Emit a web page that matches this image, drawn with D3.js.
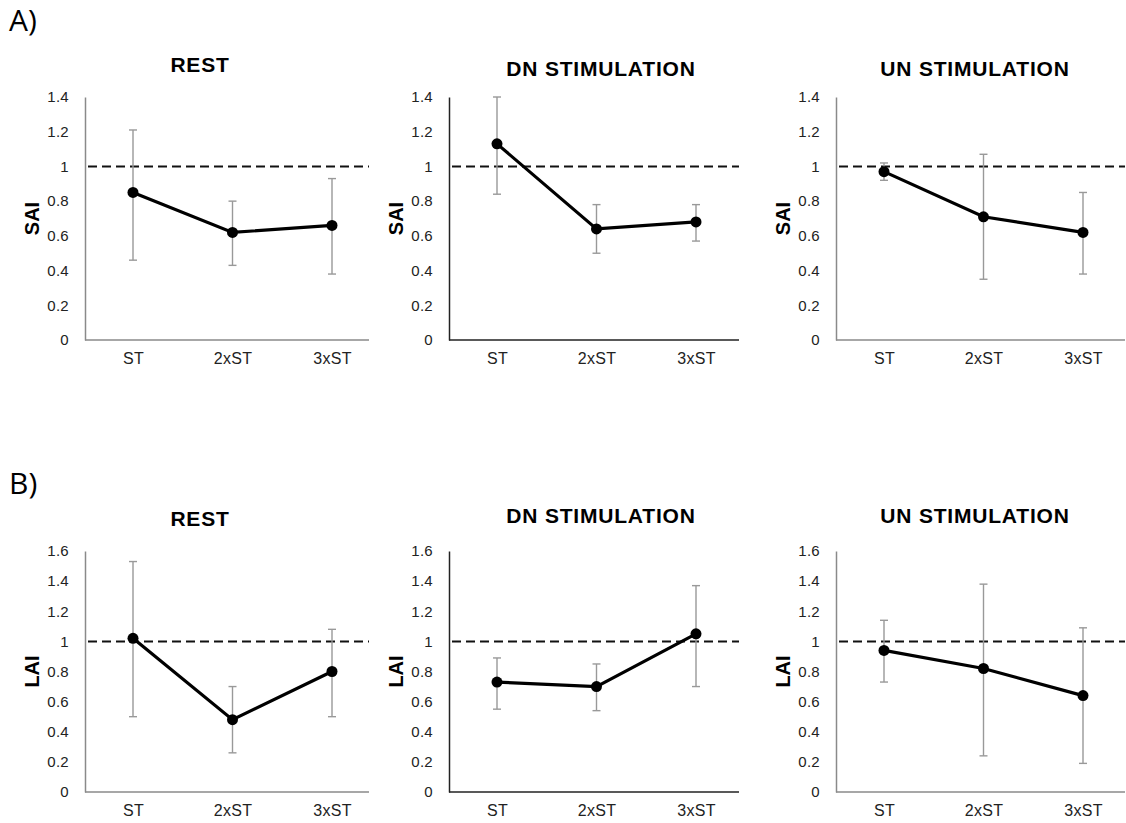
<!DOCTYPE html>
<html lang="en">
<head>
<meta charset="utf-8">
<script src="https://d3js.org/d3.v7.min.js"></script>
<style>
  body { margin: 0; background: #fff; }
  text { font-family: "Liberation Sans", Arial, sans-serif; }
  .panel-title { font-weight: bold; font-size: 21px; letter-spacing: 0.8px; }
  .ylab { font-weight: bold; font-size: 20px; }
  .tick text { font-size: 15px; fill: #222; letter-spacing: 0.3px; }
  .xcat .tick text { font-size: 16px; }
  .section { font-family: "Open Sans", Lato, sans-serif; font-size: 30px; }
</style>
</head>
<body>
<div id="chart"></div>
<script>
// categories on the x axis
const categories = ["ST", "2xST", "3xST"];

// A) SAI, rows: rest / DN stimulation / UN stimulation
const saiRestMean = [0.85, 0.62, 0.66];
const saiRestHi   = [1.21, 0.80, 0.93];
const saiRestLo   = [0.46, 0.43, 0.38];

const saiDnMean = [1.13, 0.64, 0.68];
const saiDnHi   = [1.40, 0.78, 0.78];
const saiDnLo   = [0.84, 0.50, 0.57];

const saiUnMean = [0.97, 0.71, 0.62];
const saiUnHi   = [1.02, 1.07, 0.85];
const saiUnLo   = [0.92, 0.35, 0.38];

// B) LAI
const laiRestMean = [1.02, 0.48, 0.80];
const laiRestHi   = [1.53, 0.70, 1.08];
const laiRestLo   = [0.50, 0.26, 0.50];

const laiDnMean = [0.73, 0.70, 1.05];
const laiDnHi   = [0.89, 0.85, 1.37];
const laiDnLo   = [0.55, 0.54, 0.70];

const laiUnMean = [0.94, 0.82, 0.64];
const laiUnHi   = [1.14, 1.38, 1.09];
const laiUnLo   = [0.73, 0.24, 0.19];

const titles = ["REST", "DN STIMULATION", "UN STIMULATION"];
const saiTicks = [0, 0.2, 0.4, 0.6, 0.8, 1, 1.2, 1.4];
const laiTicks = [0, 0.2, 0.4, 0.6, 0.8, 1, 1.2, 1.4, 1.6];
const refValue = 1;

const W = 1126, H = 823;
const svg = d3.select("#chart").append("svg")
    .attr("width", W).attr("height", H);

svg.append("rect").attr("width", W).attr("height", H).attr("fill", "#fff");

// layout of the six small plots
const colX = [85, 449, 836];
const colW = [284, 290, 289];
const titleX = [200, 601, 975];
const rows = [
  { label: "A)", labelY: 31, top: 97, bottom: 340, yMax: 1.4, ticks: saiTicks, ylab: "SAI",
    titleY: [72, 76, 76],
    series: [[saiRestMean, saiRestHi, saiRestLo], [saiDnMean, saiDnHi, saiDnLo], [saiUnMean, saiUnHi, saiUnLo]] },
  { label: "B)", labelY: 494, top: 551, bottom: 792, yMax: 1.6, ticks: laiTicks, ylab: "LAI",
    titleY: [526, 523, 523],
    series: [[laiRestMean, laiRestHi, laiRestLo], [laiDnMean, laiDnHi, laiDnLo], [laiUnMean, laiUnHi, laiUnLo]] }
];

rows.forEach(row => {
  svg.append("text")
      .attr("class", "section")
      .attr("x", 9)
      .attr("y", row.labelY)
      .text(row.label);

  row.series.forEach((s, i) => {
    const [mean, hi, lo] = s;
    const x0 = colX[i];
    const axisColor = i === 1 ? "#222" : "#8a8a8a";

    const y = d3.scaleLinear().domain([0, row.yMax]).range([row.bottom, row.top]);
    const x = d3.scalePoint().domain(categories).range([x0 + 48, x0 + 247]);

    const g = svg.append("g");

    // title
    g.append("text")
        .attr("class", "panel-title")
        .attr("x", titleX[i])
        .attr("y", row.titleY[i])
        .attr("text-anchor", "middle")
        .text(titles[i]);

    // y axis
    const yAxis = g.append("g")
        .attr("transform", `translate(${x0},0)`)
        .call(d3.axisLeft(y).tickValues(row.ticks)
            .tickFormat(d => String(+d.toFixed(1)))
            .tickSize(0).tickPadding(16));
    yAxis.select(".domain").attr("stroke", axisColor).attr("stroke-width", 1.5);

    // x axis line
    g.append("line")
        .attr("x1", x0).attr("x2", x0 + colW[i])
        .attr("y1", row.bottom).attr("y2", row.bottom)
        .attr("stroke", axisColor).attr("stroke-width", 1.5);

    const xAxis = g.append("g")
        .attr("class", "xcat")
        .attr("transform", `translate(0,${row.bottom})`)
        .call(d3.axisBottom(x).tickSize(0).tickPadding(13));
    xAxis.select(".domain").remove();

    // y label
    g.append("text")
        .attr("class", "ylab")
        .attr("transform", `translate(${x0 - 46},${(row.top + row.bottom) / 2}) rotate(-90)`)
        .attr("text-anchor", "middle")
        .text(row.ylab);

    // dashed reference line
    g.append("line")
        .attr("x1", x0 + 3).attr("x2", x0 + colW[i])
        .attr("y1", y(refValue)).attr("y2", y(refValue))
        .attr("stroke", "#111")
        .attr("stroke-width", 2)
        .attr("stroke-dasharray", "9,5");

    const pts = categories.map((c, k) => ({ c, m: mean[k], hi: hi[k], lo: lo[k] }));

    // error bars
    const eb = g.append("g").attr("stroke", "#999").attr("stroke-width", 1.4);
    eb.selectAll(".v").data(pts).join("line")
        .attr("x1", d => x(d.c)).attr("x2", d => x(d.c))
        .attr("y1", d => y(d.hi)).attr("y2", d => y(d.lo));
    eb.selectAll(".t").data(pts).join("line")
        .attr("x1", d => x(d.c) - 4).attr("x2", d => x(d.c) + 4)
        .attr("y1", d => y(d.hi)).attr("y2", d => y(d.hi));
    eb.selectAll(".b").data(pts).join("line")
        .attr("x1", d => x(d.c) - 4).attr("x2", d => x(d.c) + 4)
        .attr("y1", d => y(d.lo)).attr("y2", d => y(d.lo));

    // mean line + markers
    g.append("path")
        .datum(pts)
        .attr("fill", "none")
        .attr("stroke", "#000")
        .attr("stroke-width", 3.2)
        .attr("d", d3.line().x(d => x(d.c)).y(d => y(d.m)));

    g.selectAll("circle").data(pts).join("circle")
        .attr("cx", d => x(d.c))
        .attr("cy", d => y(d.m))
        .attr("r", 5.5)
        .attr("fill", "#000");
  });
});
</script>
</body>
</html>
